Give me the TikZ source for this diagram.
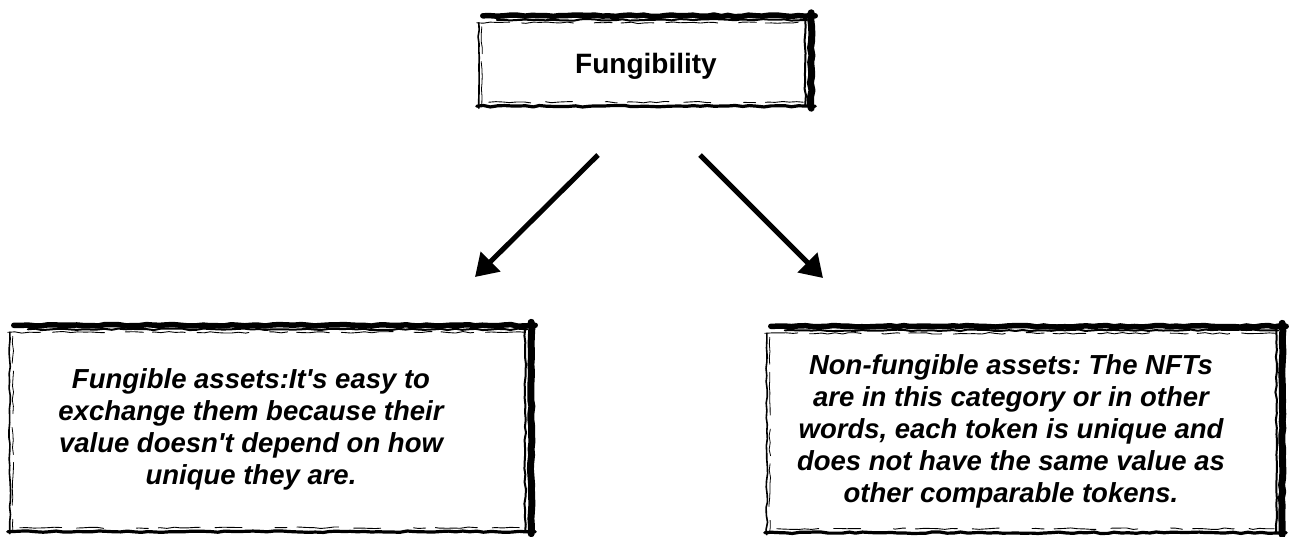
\documentclass[tikz,border=0pt]{standalone}
\usepackage{fontspec}
\setmainfont{Liberation Sans}
\usetikzlibrary{arrows.meta,decorations.pathmorphing}
\tikzset{
  rough/.style={decorate,decoration={random steps,segment length=7pt,amplitude=0.8pt},line cap=round,line join=round},
  frame/.style={draw=none,minimum width=#1,inner sep=0pt},
  body/.style={font=\fontsize{27.5}{32}\selectfont\bfseries\itshape,align=center,inner sep=0pt},
  title/.style={font=\fontsize{28}{32}\selectfont\bfseries,inner sep=0pt},
  conn/.style={line width=5pt,-{Triangle[length=22pt,width=27pt]}}
}
\newcommand{\roughbox}[1]{%
  % top edge: heavy
  \draw[rough,line width=5.5pt] ([xshift=6pt,yshift=-3pt]#1.north west) -- ([yshift=-3pt]#1.north east);
  \draw[rough,line width=2pt] ([xshift=20pt,yshift=-7pt]#1.north west) -- ([xshift=-8pt,yshift=-7pt]#1.north east);
  \draw[rough,line width=0.9pt,dash pattern=on 33pt off 12pt on 52pt off 21pt on 18pt off 9pt] ([yshift=-10pt]#1.north west) -- ([xshift=-10pt,yshift=-10pt]#1.north east);
  % right edge: heavy
  \draw[rough,line width=7pt] ([xshift=-4pt]#1.north east) -- ([xshift=-4pt]#1.south east);
  \draw[rough,line width=2pt] ([xshift=-10pt,yshift=-6pt]#1.north east) -- ([xshift=-10pt,yshift=3pt]#1.south east);
  % bottom edge: medium
  \draw[rough,line width=3.2pt] ([yshift=2pt]#1.south west) -- ([yshift=2pt]#1.south east);
  \draw[rough,line width=0.9pt,dash pattern=on 42pt off 15pt on 27pt off 33pt on 12pt off 10pt] ([xshift=12pt,yshift=6pt]#1.south west) -- ([xshift=-12pt,yshift=6pt]#1.south east);
  % left edge: thin sketchy
  \draw[rough,line width=1.6pt] ([xshift=2pt,yshift=-10pt]#1.north west) -- ([xshift=2pt]#1.south west);
  \draw[rough,line width=0.8pt,dash pattern=on 27pt off 8pt on 43pt off 14pt] ([xshift=5pt,yshift=-14pt]#1.north west) -- ([xshift=5pt,yshift=4pt]#1.south west);
}
\begin{document}
\frenchspacing
\begin{tikzpicture}[x=1pt,y=-1pt]
\useasboundingbox[fill=white] (0,0) rectangle (1290,536);
\pgfmathsetseed{7}
% frames
\node[frame=338pt,minimum height=95pt] (topbox) at (646,60.5) {};
\node[frame=527pt,minimum height=211pt] (leftbox) at (271.5,428) {};
\node[frame=521pt,minimum height=211pt] (rightbox) at (1025.5,429) {};
\roughbox{topbox}
\roughbox{leftbox}
\roughbox{rightbox}
% texts
\node[title,anchor=base] (ttl) at (646,73) {Fungibility};
\node[body] (ltxt) at (251,429) {Fungible assets:It\textquotesingle s easy to\\exchange them because their\\value doesn\textquotesingle t depend on how\\unique they are.};
\node[body] (rtxt) at (1011,431) {Non-fungible assets: The NFTs\\are in this category or in other\\words, each token is unique and\\does not have the same value as\\other comparable tokens.};
% connectors
\coordinate (la) at (598,155);
\coordinate (lb) at (475,277);
\coordinate (ra) at (700,155);
\coordinate (rb) at (823,278);
\draw[conn] (la) -- (lb);
\draw[conn] (ra) -- (rb);
\end{tikzpicture}
\end{document}
